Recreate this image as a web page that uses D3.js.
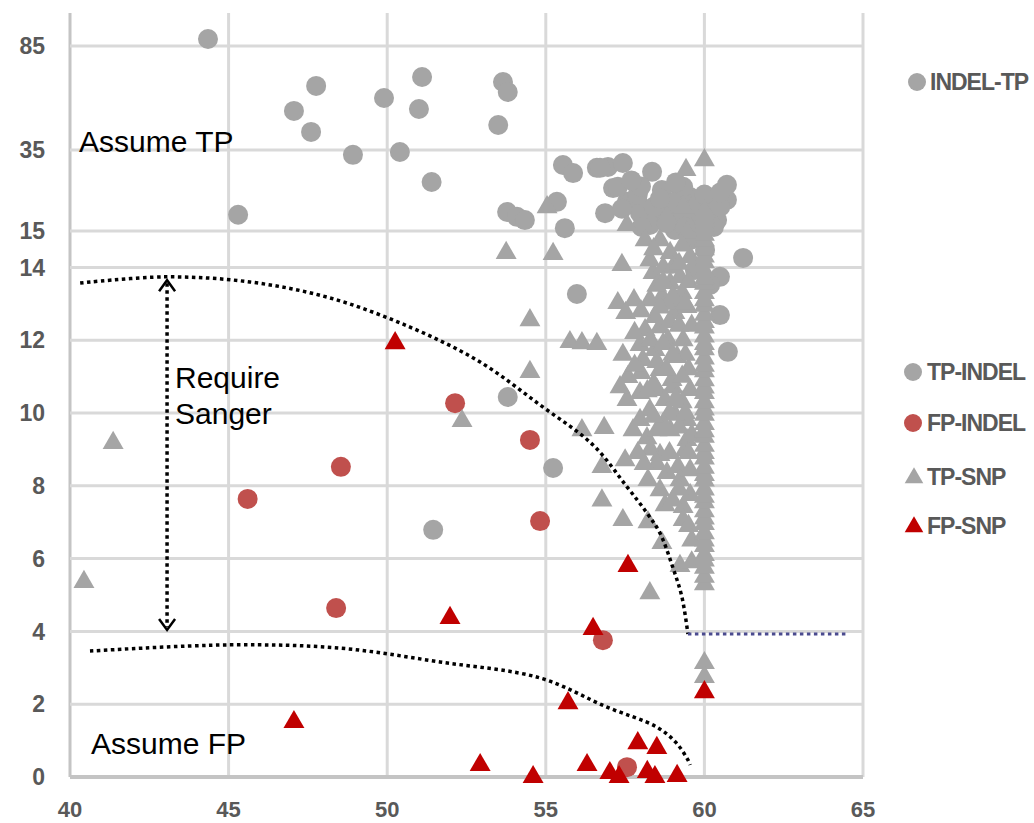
<!DOCTYPE html>
<html>
<head>
<meta charset="utf-8">
<script src="https://cdn.jsdelivr.net/npm/d3@7"></script>
<style>
  body { margin: 0; background: #fff; }
  svg { display: block; font-family: Arial, "Liberation Sans", sans-serif; }
</style>
</head>
<body>
<svg id="chart" width="1034" height="823"></svg>
<script>
// ---- data ----
const xTicks = [40, 45, 50, 55, 60, 65];
const yTicks = [0, 2, 4, 6, 8, 10, 12, 14, 15, 35, 85];

const tpIndel = [
  [44.35, 88.4], [47.06, 53.8], [47.76, 65.8], [47.6, 43.7], [48.92, 33.8],
  [49.9, 60], [51.1, 70.1], [51.0, 54.7], [50.4, 34.5], [51.4, 27.1],
  [53.65, 67.7], [53.8, 62.9], [53.5, 47], [45.3, 19.0], [51.45, 6.79],
  [55.23, 8.49], [53.8, 10.44], [55.98, 13.27], [61.22, 14.26], [60.49, 13.74],
  [60.49, 12.69], [60.74, 11.68], [55.54, 31.3], [55.86, 29.3], [56.61, 30.6],
  [56.96, 30.8], [57.43, 31.8], [57.12, 25.6], [58.35, 29.6], [58.66, 25.1],
  [57.56, 22.2], [57.88, 22.7], [57.97, 19.4], [56.87, 19.4], [55.35, 22.2],
  [55.6, 15.7], [53.78, 19.7], [54.09, 18.5], [54.34, 17.7], [59.23, 25.6],
  [59.55, 23.4], [60.27, 22.2], [60.71, 26.4], [60.71, 22.7], [59.45, 20.2],
  [60.08, 19.4], [60.27, 18.5], [59.86, 16.5], [59.55, 14.75], [60.02, 14.48],
  [59.7, 13.93], [60.18, 13.52], [59.07, 15.25], [58.6, 18.95], [58.28, 16.48],
  [57.27, 25.9], [56.71, 30.6], [58.02, 16.0], [59.33, 25.9], [60.4, 17.7],
  [58.9, 20.0], [59.2, 18.0], [59.6, 17.5], [59.9, 18.5], [60.2, 20.5],
  [60.5, 21.0], [59.0, 22.0], [58.8, 17.0], [59.4, 16.0], [60.3, 16.0],
  [59.8, 21.5], [58.4, 21.0], [57.9, 24.0], [58.0, 26.0], [57.7, 27.5],
  [60.0, 24.0], [60.5, 24.5], [59.1, 27.0], [58.6, 23.0], [57.4, 20.5]
];

const fpIndel = [
  [45.6, 7.64], [48.54, 8.52], [48.39, 4.64], [52.14, 10.27],
  [54.5, 9.26], [54.82, 7.03], [56.8, 3.76], [57.56, 0.27]
];

const tpSnp = [
  [40.44, 5.36], [41.36, 9.18], [52.36, 9.78], [53.75, 14.4], [54.5, 12.55],
  [54.5, 11.13], [55.23, 14.37], [55.04, 20.9], [55.76, 11.95], [56.14, 11.92],
  [56.61, 11.9], [56.14, 9.53], [56.84, 9.59], [56.77, 8.52], [56.77, 7.6],
  [57.4, 14.07], [57.27, 13.02], [57.78, 13.1], [57.52, 12.75], [57.43, 11.6],
  [57.43, 7.06], [58.28, 5.05], [58.66, 6.43], [59.23, 5.8], [59.42, 30.1],
  [60.0, 32.5], [57.5, 8.7], [58.22, 7.0],
  [57.56, 10.36], [57.75, 9.53], [58.19, 9.31], [58.51, 9.53], [58.22, 8.16],
  [58.6, 7.88], [58.82, 8.35], [59.17, 8.52], [59.23, 8.16], [59.33, 7.42],
  [59.33, 7.06], [59.45, 9.26], [59.45, 9.81], [59.39, 8.98], [57.97, 10.55],
  [58.51, 10.63], [59.01, 10.71], [57.34, 10.71], [57.56, 16.48], [58.13, 14.75],
  [58.38, 13.85], [58.06, 11.46], [57.59, 10.99], [58.6, 12.36], [58.44, 12.64],
  [58.66, 13.19], [58.92, 13.57], [59.23, 13.74], [59.07, 12.75], [58.85, 12.0],
  [59.14, 11.54], [58.6, 11.18], [58.98, 10.91], [59.33, 12.0], [59.45, 12.91],
  [59.55, 14.29], [58.92, 14.4], [58.82, 18.46], [59.33, 20.9], [59.45, 14.95],
  [58.28, 13.1], [58.13, 12.28], [57.97, 11.87], [58.44, 11.73], [58.76, 10.36],
  [58.28, 10.08], [57.97, 9.81], [58.92, 9.53], [59.07, 9.95], [58.6, 8.85],
  [59.55, 10.63], [59.55, 8.43], [59.55, 7.75], [58.76, 7.47], [58.28, 14.2],
  [58.6, 14.75],
  [57.8, 12.2], [58.0, 12.8], [58.3, 12.0], [58.5, 11.4], [58.7, 11.9],
  [58.9, 12.5], [59.1, 13.1], [59.3, 13.3], [59.5, 13.6], [59.5, 11.2],
  [59.3, 10.3], [59.1, 10.4], [58.9, 10.0], [58.7, 9.7], [58.4, 9.9],
  [58.2, 10.6], [58.0, 11.1], [57.8, 11.3], [58.3, 9.0], [58.5, 8.6],
  [58.9, 8.9], [59.2, 9.6], [59.4, 10.0], [59.0, 7.6], [59.2, 7.9],
  [59.5, 6.9], [59.5, 8.9], [59.4, 11.6], [59.2, 12.4], [58.8, 13.0],
  [58.5, 13.5], [58.7, 14.0], [59.0, 14.0], [59.3, 14.6], [59.6, 12.4],
  [59.6, 9.4], [58.1, 8.6], [57.9, 8.9], [59.6, 5.9], [59.6, 6.5],
  [58.4, 14.5], [58.7, 13.6], [59.0, 13.2], [59.2, 14.1], [59.4, 13.0],
  [58.6, 12.9], [59.0, 11.6], [58.8, 11.2], [59.3, 11.0], [58.4, 10.8],
  [60.0, 3.13], [60.0, 2.75]
];

// stacked column of TP-SNP calls at x = 60
const col60 = [
  5.3, 5.5, 5.75, 5.95, 6.1, 6.35, 6.5, 6.7, 6.95, 7.1, 7.3, 7.55, 7.7, 7.9,
  8.15, 8.3, 8.5, 8.75, 8.9, 9.1, 9.35, 9.5, 9.7, 9.95, 10.1, 10.3, 10.55,
  10.7, 10.9, 11.15, 11.3, 11.5, 11.75, 11.9, 12.1, 12.35, 12.5, 12.7, 12.95,
  13.1, 13.3, 13.55, 13.7, 13.9, 14.15, 14.3, 14.5, 14.75, 14.9, 15.6, 16.5,
  17.6, 18.6, 19.8
];

const fpSnp = [
  [50.25, 11.92], [47.06, 1.51], [51.98, 4.37], [57.59, 5.8], [56.49, 4.07],
  [55.7, 2.03], [52.93, 0.33], [54.6, 0.0], [56.3, 0.33], [57.02, 0.11],
  [57.31, 0.0], [57.9, 0.93], [58.5, 0.8], [58.2, 0.14], [58.44, 0.0],
  [59.14, 0.03], [60.0, 2.33]
];

// annotation guides (data units)
const upperCurve = [
  [40.32, 13.57], [43.0, 13.74], [45.67, 13.6], [48.2, 13.16], [50.72, 12.36],
  [52.93, 11.4], [54.82, 10.22], [56.49, 9.12], [57.56, 7.97], [58.19, 7.25],
  [58.6, 6.7], [59.0, 5.77], [59.29, 4.95], [59.48, 3.93]
];
const lowerCurve = [
  [40.63, 3.46], [45.04, 3.63], [48.51, 3.54], [51.66, 3.16], [54.82, 2.72],
  [56.93, 1.92], [58.5, 1.37], [59.1, 0.95], [59.48, 0.47], [59.55, 0.33]
];
const blueLine = [[59.48, 3.93], [64.5, 3.93]];
const arrowX = 43.06, arrowTop = 13.65, arrowBottom = 4.04;

const grayC = "#a5a5a5", redC = "#c0504d", redT = "#c00000";

// ---- scales ----
const svg = d3.select("#chart");
const x = d3.scaleLinear().domain([40, 65]).range([70, 863]);
const y = d3.scaleLinear().domain([0, 15, 35, 85, 101]).range([777, 231, 150, 46, 13]);

// grid
svg.append("g").selectAll("line").data(xTicks).join("line")
  .attr("x1", d => x(d)).attr("x2", d => x(d))
  .attr("y1", y(101)).attr("y2", y(0))
  .attr("stroke", d => d === 40 ? "#c4c4c4" : "#d9d9d9")
  .attr("stroke-width", 3);
svg.append("g").selectAll("line").data(yTicks).join("line")
  .attr("x1", x(40)).attr("x2", x(65))
  .attr("y1", d => y(d)).attr("y2", d => y(d))
  .attr("stroke", d => d === 0 ? "#c4c4c4" : "#d9d9d9")
  .attr("stroke-width", d => d === 0 ? 4 : 3);

// tick labels
svg.append("g").selectAll("text").data(yTicks).join("text")
  .attr("x", 45).attr("y", d => y(d)).attr("dy", "0.36em")
  .attr("text-anchor", "end")
  .attr("font-size", 23).attr("font-weight", "bold").attr("fill", "#595959")
  .text(d => d);
svg.append("g").selectAll("text").data(xTicks).join("text")
  .attr("x", d => x(d)).attr("y", 817)
  .attr("text-anchor", "middle")
  .attr("font-size", 22).attr("font-weight", "bold").attr("fill", "#595959")
  .text(d => d);

// points
const tri = d3.symbol().type(d3.symbolTriangle).size(190);
const plot = svg.append("g");
plot.append("g").selectAll("circle").data(tpIndel).join("circle")
  .attr("cx", d => x(d[0])).attr("cy", d => y(d[1])).attr("r", 10).attr("fill", grayC);
plot.append("g").selectAll("circle").data(fpIndel).join("circle")
  .attr("cx", d => x(d[0])).attr("cy", d => y(d[1])).attr("r", 10).attr("fill", redC);
plot.append("g").selectAll("path").data(tpSnp).join("path")
  .attr("d", tri).attr("fill", grayC)
  .attr("transform", d => `translate(${x(d[0])},${y(d[1])})`);
plot.append("g").selectAll("path").data(col60).join("path")
  .attr("d", tri).attr("fill", grayC)
  .attr("transform", d => `translate(${x(60)},${y(d)})`);
plot.append("g").selectAll("path").data(fpSnp).join("path")
  .attr("d", tri).attr("fill", redT)
  .attr("transform", d => `translate(${x(d[0])},${y(d[1])})`);

// dotted guides
const line = d3.line().x(d => x(d[0])).y(d => y(d[1])).curve(d3.curveCatmullRom);
[upperCurve, lowerCurve].forEach(c => {
  svg.append("path").attr("d", line(c))
    .attr("fill", "none").attr("stroke", "#000")
    .attr("stroke-width", 3.5).attr("stroke-dasharray", "3.5,3.5");
});
svg.append("path").attr("d", d3.line().x(d => x(d[0])).y(d => y(d[1]))(blueLine))
  .attr("fill", "none").attr("stroke", "#4b4b8f")
  .attr("stroke-width", 3).attr("stroke-dasharray", "3.5,3.5");

// double arrow
const ax = x(arrowX), at = y(arrowTop), ab = y(arrowBottom);
svg.append("line").attr("x1", ax).attr("x2", ax).attr("y1", at + 3).attr("y2", ab - 3)
  .attr("stroke", "#000").attr("stroke-width", 3.5).attr("stroke-dasharray", "3.5,3.5");
svg.append("path")
  .attr("d", `M${ax - 8},${at + 11}L${ax},${at}L${ax + 8},${at + 11}M${ax - 8},${ab - 11}L${ax},${ab}L${ax + 8},${ab - 11}`)
  .attr("fill", "none").attr("stroke", "#000").attr("stroke-width", 2.5);

// annotation text
const note = (tx, ty, t) => svg.append("text").attr("x", tx).attr("y", ty)
  .attr("font-size", 30).attr("fill", "#000").text(t);
note(79, 152, "Assume TP");
note(175, 388, "Require");
note(175, 424, "Sanger");
note(91, 754, "Assume FP");

// legends
const legend = [
  { label: "INDEL-TP", shape: "c", color: grayC, y: 82, mx: 917, tx: 930 },
  { label: "TP-INDEL", shape: "c", color: grayC, y: 372, mx: 913, tx: 927 },
  { label: "FP-INDEL", shape: "c", color: redC, y: 423, mx: 913, tx: 927 },
  { label: "TP-SNP", shape: "t", color: grayC, y: 477, mx: 914, tx: 927 },
  { label: "FP-SNP", shape: "t", color: redT, y: 526, mx: 914, tx: 927 }
];
const lg = svg.append("g").selectAll("g").data(legend).join("g");
lg.filter(d => d.shape === "c").append("circle")
  .attr("cx", d => d.mx).attr("cy", d => d.y).attr("r", 9).attr("fill", d => d.color);
lg.filter(d => d.shape === "t").append("path")
  .attr("d", d3.symbol().type(d3.symbolTriangle).size(150))
  .attr("transform", d => `translate(${d.mx},${d.y + 1})`).attr("fill", d => d.color);
lg.append("text").attr("x", d => d.tx).attr("y", d => d.y).attr("dy", "0.36em")
  .attr("font-size", 23).attr("font-weight", "bold").attr("fill", "#595959")
  .attr("letter-spacing", -1)
  .text(d => d.label);
</script>
</body>
</html>
